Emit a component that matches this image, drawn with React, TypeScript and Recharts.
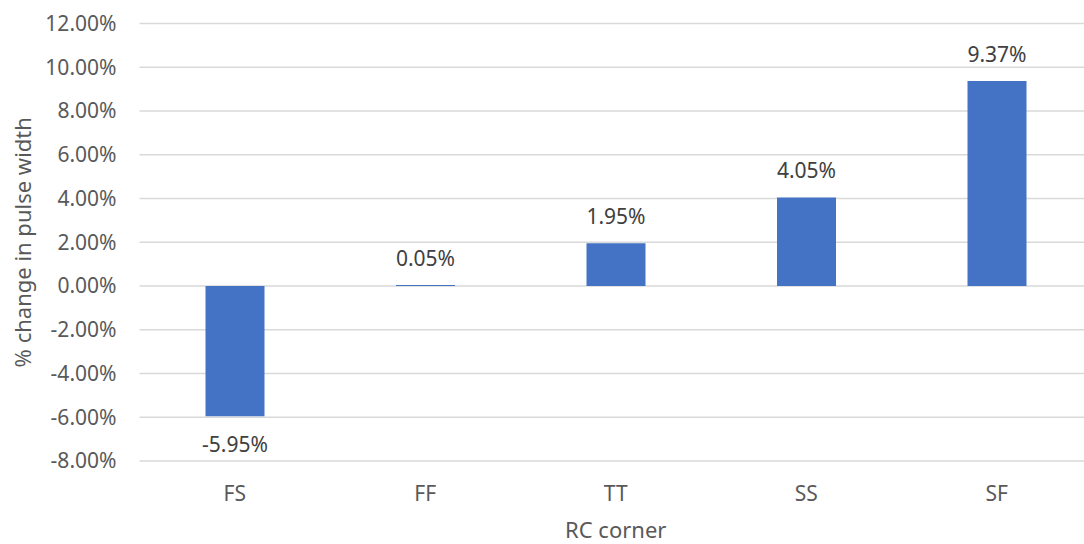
import React from 'react';
import { BarChart, Bar, XAxis, YAxis, CartesianGrid, LabelList, Label } from 'recharts';

// RC corner sweep: percent change in pulse width
const corners = ['FS', 'FF', 'TT', 'SS', 'SF'];
const pulseChange = [-5.95, 0.05, 1.95, 4.05, 9.37];
const yTicks = [-8, -6, -4, -2, 0, 2, 4, 6, 8, 10, 12];

const data = corners.map((c, i) => ({ corner: c, change: pulseChange[i] }));

const FONT = '"Noto Sans", "Open Sans", sans-serif';
const TEXT = '#595959';
const fmt = (v: number) => `${v.toFixed(2)}%`;

// Excel-style "outside end" labels: above positive bars, below negative ones
const renderValue = (props: any) => {
    const { x, y, width, height, value } = props;
    const top = Math.min(y, y + height);
    const bottom = Math.max(y, y + height);
    const cx = x + width / 2;
    const ty = value < 0 ? bottom + 36 : top - 19;
    return (
        <text x={cx} y={ty} textAnchor="middle" fill="#404040" fontSize={21} fontFamily={FONT}>
            {fmt(value)}
        </text>
    );
};

const YTitle = (props: any) => {
    const { viewBox } = props;
    const cy = viewBox.y + viewBox.height / 2;
    return (
        <text x={22} y={cy} transform={`rotate(-90, 22, ${cy})`} textAnchor="middle" dominantBaseline="central"
            fill={TEXT} fontSize={22} fontFamily={FONT}>
            % change in pulse width
        </text>
    );
};

const XTitle = (props: any) => {
    const { viewBox } = props;
    const cx = viewBox.x + viewBox.width / 2;
    return (
        <text x={cx} y={538} textAnchor="middle" fill={TEXT} fontSize={22} fontFamily={FONT}>
            RC corner
        </text>
    );
};

export default function App() {
    return (
        <div style={{ position: 'fixed', top: 0, left: 0, width: 1084, height: 544, overflow: 'hidden', background: '#fff' }}>
            <BarChart width={1092} height={544} data={data} margin={{ top: 23.5, right: 0, bottom: 0, left: 0 }}>
                <CartesianGrid vertical={false} stroke="#d9d9d9" strokeWidth={1.4} />
                <XAxis
                    dataKey="corner"
                    height={83}
                    axisLine={false}
                    tickLine={false}
                    tickSize={0}
                    tickMargin={25}
                    tick={{ fill: TEXT, fontSize: 21, fontFamily: FONT }}
                >
                    <Label content={XTitle} />
                </XAxis>
                <YAxis
                    width={139.5}
                    domain={[-8, 12]}
                    ticks={yTicks}
                    interval={0}
                    tickFormatter={fmt}
                    axisLine={false}
                    tickLine={false}
                    tickSize={0}
                    tickMargin={23}
                    tick={{ fill: TEXT, fontSize: 21, fontFamily: FONT }}
                >
                    <Label content={YTitle} />
                </YAxis>
                <Bar dataKey="change" fill="#4472C4" barSize={59} isAnimationActive={false}>
                    <LabelList dataKey="change" content={renderValue} />
                </Bar>
            </BarChart>
        </div>
    );
}
